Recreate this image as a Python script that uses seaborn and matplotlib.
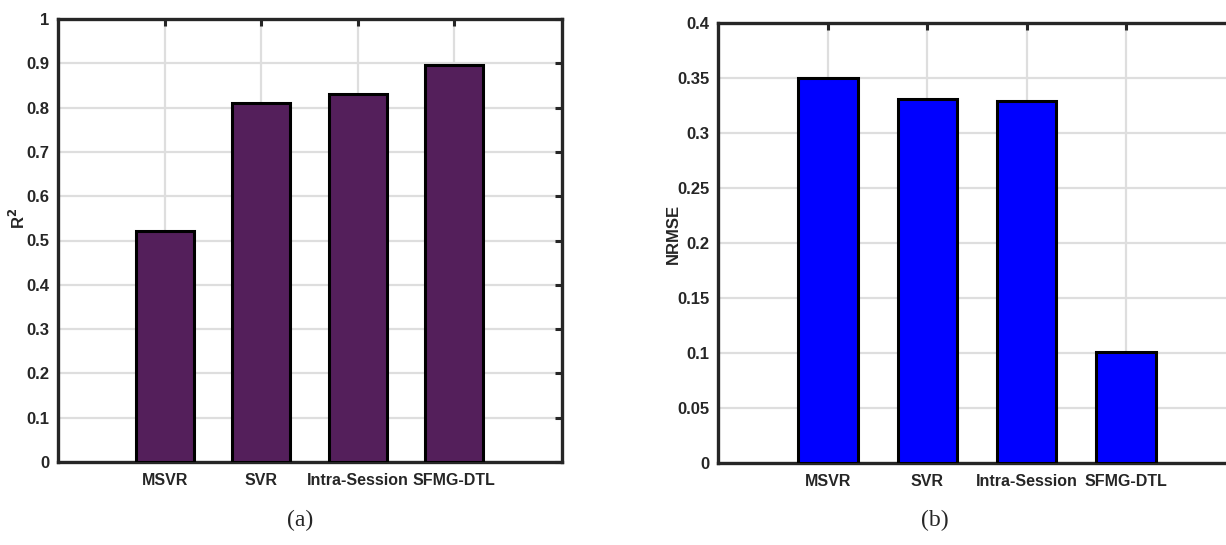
"""
R2 / NRMSE 对比柱状图
"""
import pandas as pd
import matplotlib.pyplot as plt
import seaborn as sns

models = ['MSVR', 'SVR', 'Intra-Session', 'SFMG-DTL']
r2_values = [0.521, 0.811, 0.831, 0.896]
nrmse_values = [0.350, 0.331, 0.329, 0.101]
r2_ticks = [0, 0.1, 0.2, 0.3, 0.4, 0.5, 0.6, 0.7, 0.8, 0.9, 1]
nrmse_ticks = [0, 0.05, 0.1, 0.15, 0.2, 0.25, 0.3, 0.35, 0.4]

sns.set_style('white')
plt.rcParams['font.family'] = ['Liberation Sans', 'DejaVu Sans']
plt.rcParams['font.weight'] = 'bold'

SPINE = '#262626'


def draw_panel(ax, values, color, ticks, ylabel, ylim, label_xy):
    df = pd.DataFrame({'model': models, 'value': values})
    sns.barplot(data=df, x='model', y='value', color=color, width=0.6,
                edgecolor='black', linewidth=2.2, saturation=1, ax=ax, zorder=3)
    ax.set_xlim(-1.11, 4.12)
    ax.set_ylim(*ylim)
    ax.set_yticks(ticks)
    ax.set_yticklabels([f'{t:g}' for t in ticks])
    ax.grid(True, color='#dedede', linewidth=1.6, zorder=0)
    ax.set_axisbelow(True)
    ax.tick_params(axis='both', direction='in', length=5, width=2.2, color=SPINE,
                   top=True, right=True, labelcolor='#262626')
    ax.tick_params(axis='y', labelsize=12, pad=6)
    ax.tick_params(axis='x', labelsize=11.5, pad=8)
    for lab in ax.get_xticklabels() + ax.get_yticklabels():
        lab.set_fontweight('bold')
    for sp in ax.spines.values():
        sp.set_visible(True)
        sp.set_color(SPINE)
        sp.set_linewidth(2.4)
    ax.set_xlabel('')
    ax.set_ylabel(ylabel, fontsize=12, fontweight='bold', color='#262626')
    ax.yaxis.set_label_coords(*label_xy)


fig = plt.figure(figsize=(12.26, 5.45), dpi=100)
ax1 = fig.add_axes([58 / 1226, 83 / 545, 504 / 1226, 443 / 545])
ax2 = fig.add_axes([718 / 1226, 82 / 545, 519 / 1226, 440 / 545])

draw_panel(ax1, r2_values, '#541F5B', r2_ticks, 'R$^\\mathbf{2}$', (0, 1), (-0.06, 0.55))
draw_panel(ax2, nrmse_values, '#0000FF', nrmse_ticks, 'NRMSE', (0, 0.4), (-0.072, 0.52))

fig.text(300 / 1226, 1 - 520 / 545, '(a)', ha='center', va='center',
         fontsize=17, family=['Liberation Serif', 'DejaVu Serif'], fontweight='normal')
fig.text(935 / 1226, 1 - 520 / 545, '(b)', ha='center', va='center',
         fontsize=17, family=['Liberation Serif', 'DejaVu Serif'], fontweight='normal')

fig.savefig('out.png', dpi=100)
